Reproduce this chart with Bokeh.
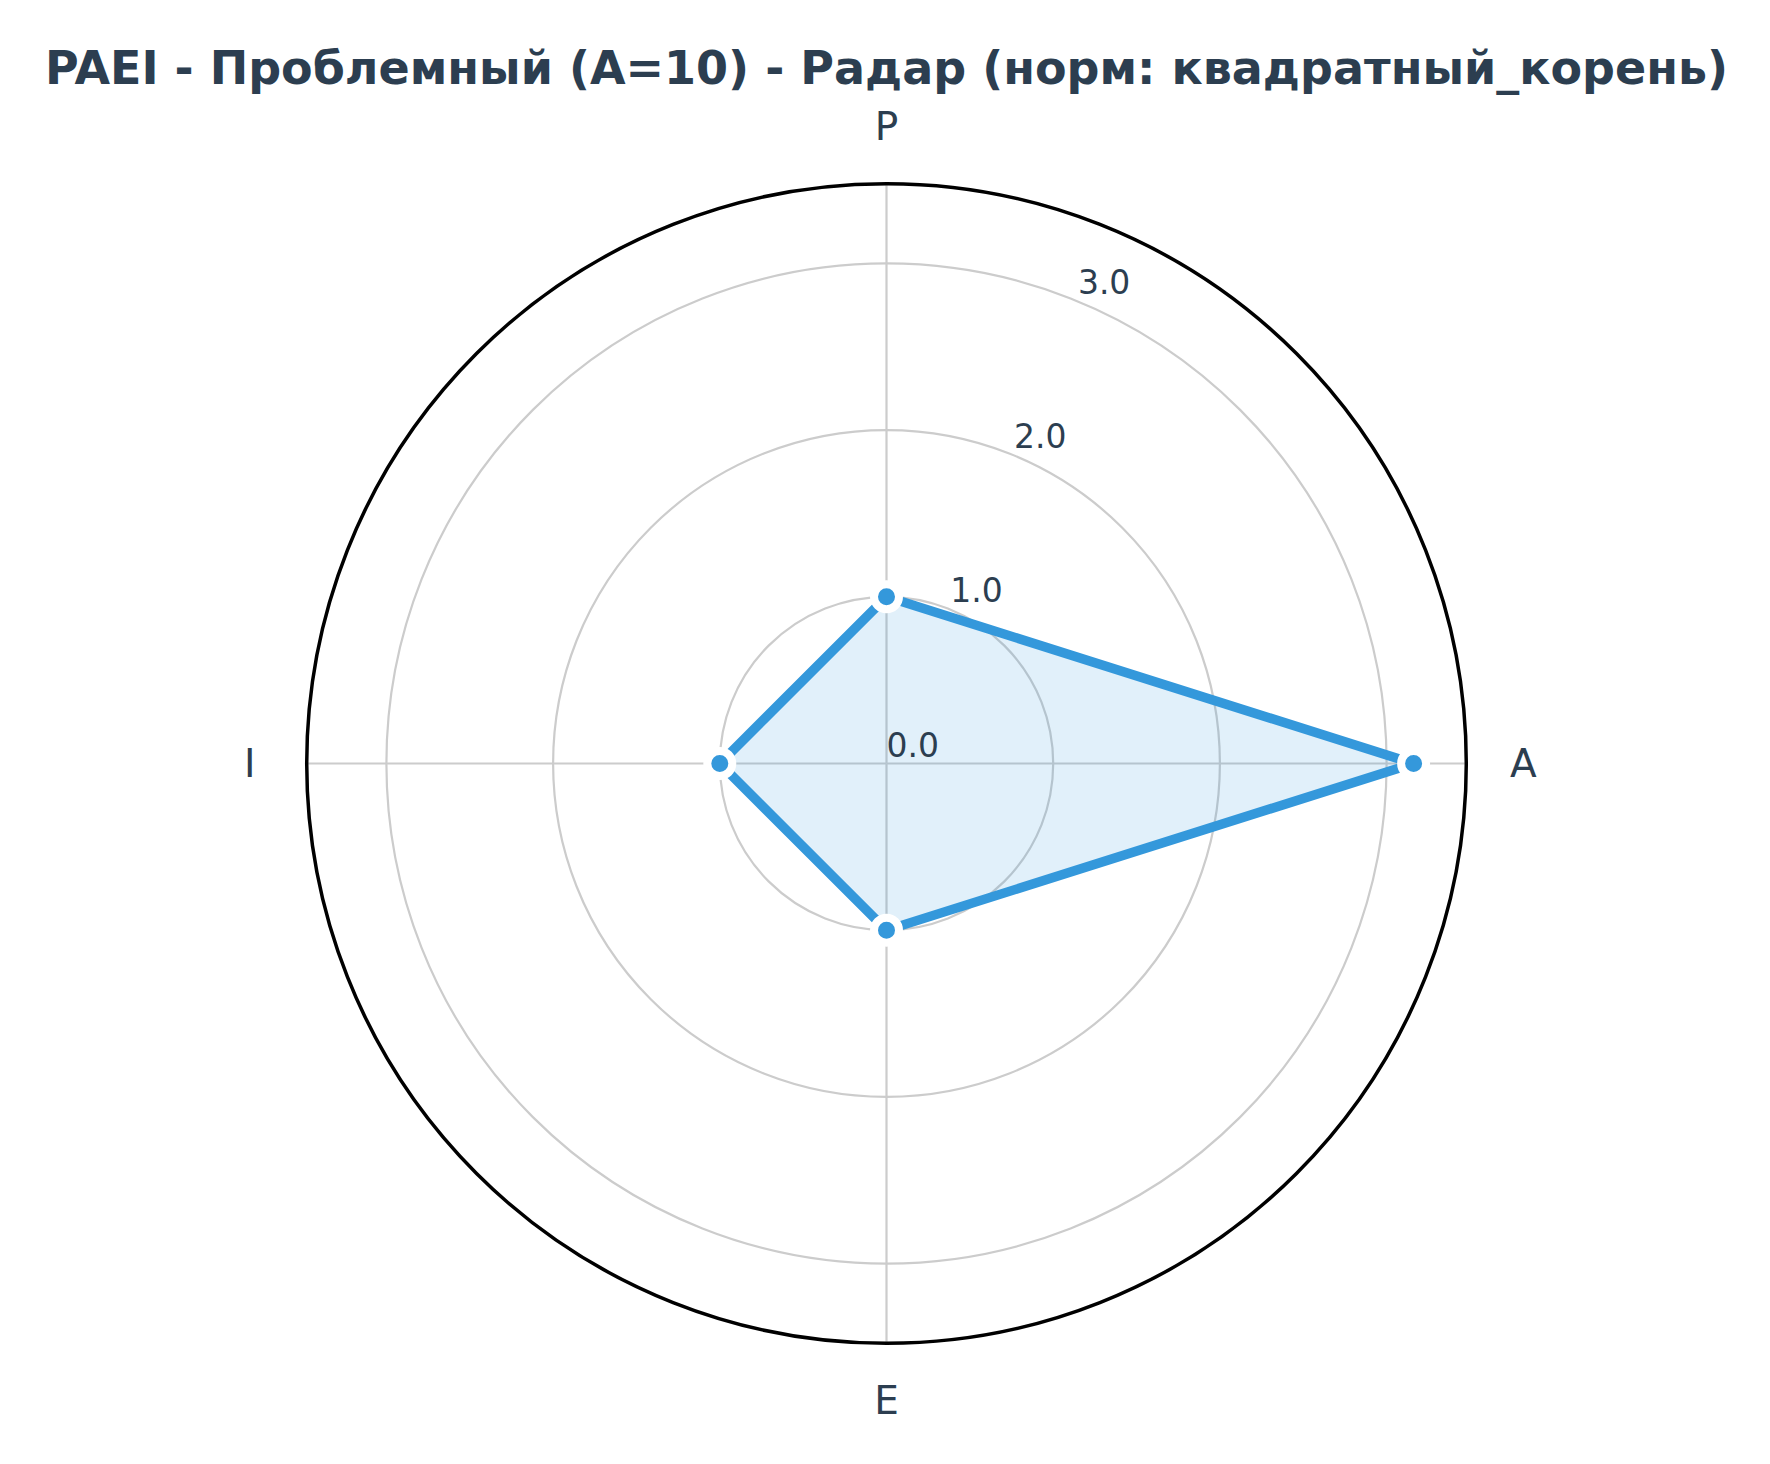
import math
from bokeh.plotting import figure
from bokeh.models import Range1d
from bokeh.core.properties import value
from bokeh.embed import file_html
from bokeh.resources import INLINE

# ---- data ----
categories = ["P", "A", "E", "I"]
raw_values = [1, 10, 1, 1]
norm_values = [1.0, 3.162, 1.0, 1.0]          # square-root normalised
ring_values = [1.0, 2.0, 3.0]
ring_labels = ["1.0", "2.0", "3.0"]
zero_label = "0.0"
r_max = 3.478
title_text = "PAEI - Проблемный (A=10) - Радар (норм: квадратный_корень)"

# ---- layout ----
W, H = 1770, 1464
CX, CY = 886, 763        # centre in pixels (from top-left)
S = 166.7                # pixels per unit

TEXT = "#2c3e50"
BLUE = "#3498db"
GRID = "#cccccc"

p = figure(width=W, height=H,
           x_range=Range1d(-CX / S, (W - CX) / S),
           y_range=Range1d(-(H - CY) / S, CY / S),
           output_backend="svg", toolbar_location=None, min_border=0)
p.axis.visible = False
p.grid.visible = False
p.outline_line_color = None
p.background_fill_color = "white"
p.border_fill_color = "white"

n = len(categories)
angles = [math.pi / 2 - 2 * math.pi * i / n for i in range(n)]  # clockwise from top

# grid rings
p.circle(x=[0] * len(ring_values), y=[0] * len(ring_values), radius=ring_values,
         fill_color=None, line_color=GRID, line_width=2.2)
# radial grid lines
for a in angles:
    p.line([0, r_max * math.cos(a)], [0, r_max * math.sin(a)],
           line_color=GRID, line_width=2.2)
# outer spine
p.circle(x=[0], y=[0], radius=[r_max], fill_color=None, line_color="black", line_width=3.5)

# data polygon
xs = [v * math.cos(a) for v, a in zip(norm_values, angles)]
ys = [v * math.sin(a) for v, a in zip(norm_values, angles)]
p.patch(xs, ys, fill_color=BLUE, fill_alpha=0.15, line_color=None)
p.line(xs + xs[:1], ys + ys[:1], line_color=BLUE, line_width=9.5, line_join="miter")
p.scatter(xs, ys, size=25, fill_color=BLUE, line_color="white", line_width=8)

# radial labels at 22.5 deg clockwise from top
ra = math.pi / 2 - math.radians(22.5)
lab_r = [0.0] + ring_values
lab_t = [zero_label] + ring_labels
off = 7 / S
p.text(x=[r * math.cos(ra) for r in lab_r], y=[r * math.sin(ra) + off for r in lab_r], text=lab_t,
       text_align="left", text_baseline="bottom", text_color=TEXT,
       text_font=value("DejaVu Sans"), text_font_size="33px")

# category labels
lr = 3.82
p.text(x=[lr * math.cos(a) for a in angles], y=[lr * math.sin(a) for a in angles],
       text=categories, text_align="center", text_baseline="middle", text_color=TEXT,
       text_font=value("DejaVu Sans"), text_font_size="39px")

# title
p.text(x=[0], y=[(CY - 67) / S], text=[title_text], text_align="center",
       text_baseline="alphabetic", text_color=TEXT, text_font=value("DejaVu Sans"),
       text_font_style="bold", text_font_size="46px")

open("out.html", "w").write(file_html(p, INLINE))
